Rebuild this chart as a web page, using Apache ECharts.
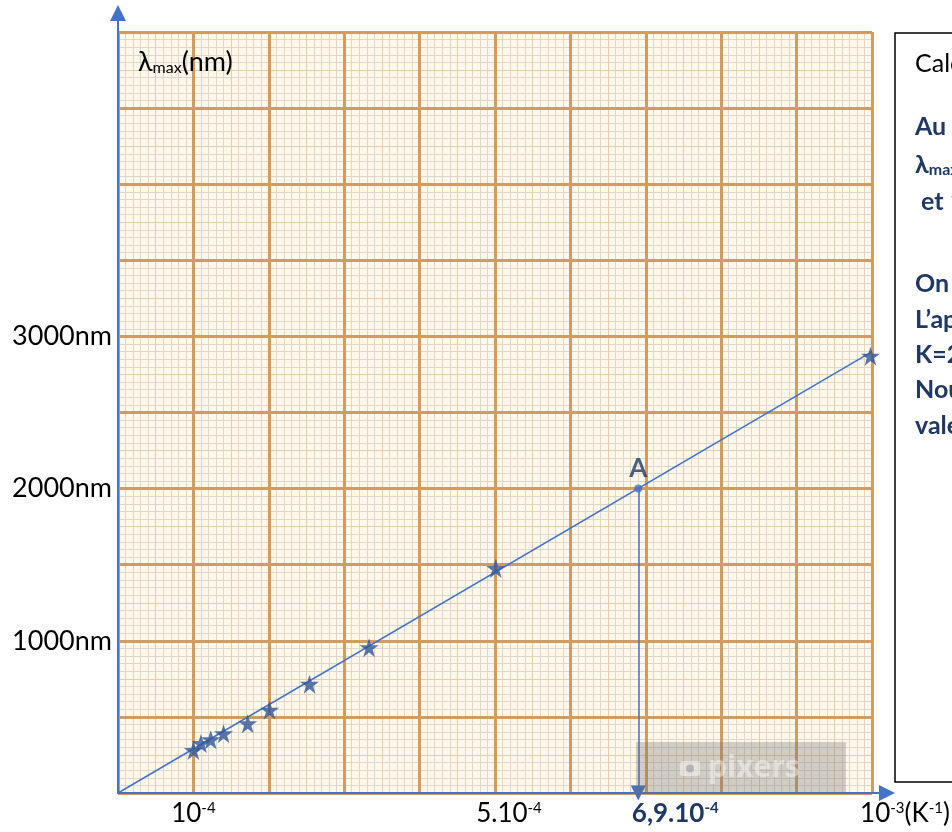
<!DOCTYPE html>
<html><head><meta charset="utf-8">
<script src="https://cdn.jsdelivr.net/npm/echarts@6/dist/echarts.min.js"></script>
<style>html,body{margin:0;padding:0;background:#fff}#c{width:952px;height:832px}</style>
</head><body><div id="c"></div>
<script>
// ---- data ----
const starX = [1.00e-4, 1.10e-4, 1.23e-4, 1.40e-4, 1.72e-4, 2.01e-4, 2.54e-4, 3.33e-4, 5.01e-4, 9.98e-4];
const starY = [280, 325, 350, 390, 455, 545, 715, 955, 1475, 2870];
const fitX = [0, 1.0e-3];
const fitY = [0, 2900];
const pointAX = 6.9e-4;
const pointAY = 2000;
const pointALabel = 'A';
const xTickValues = [1e-4, 5e-4, 6.9e-4, 1e-3];
const xTickLabels = ['10{sup|-4}', '5.10{sup|-4}', '{b|6,9.10}{bsup|-4}', '10{sup|-3}(K{sup|-1})'];
const yTickValues = [1000, 2000, 3000];
const yTickLabels = ['1000nm', '2000nm', '3000nm'];
const yAxisName = '{l|λ}{s|max}{l|(nm)}';
const xMin = 0, xMax = 1e-3, yMin = 0, yMax = 5000;
const boxLines = [
  {t: 'Calcul de la constante de Wien', bold: false},
  {t: 'Au point A :', bold: true},
  {t: '{bl|λ}{bs|max}{b| = 2000 nm = 2.10}{bsup|-6}{b| m}', bold: true, rich: true},
  {t: ' et 1/T = 6,9.10-4 K-1', bold: true},
  {t: 'On a : λmax = K × 1/T', bold: true},
  {t: 'L’application numérique donne', bold: true},
  {t: 'K=2,9.10-3 m.K', bold: true},
  {t: 'Nous retrouvons bien la', bold: true},
  {t: 'valeur de la constante de Wien', bold: true}
];
const boxLineY = [64, 127, 165, 202, 284, 320, 355, 390, 426];

// ---- styles ----
const FONT = 'Lato';
const NAVY = '#1F3864';
const BLUE = '#4472C4';
const STARC = '#2F5597';
const xShift = [0, 28, 74, 66];

const chart = echarts.init(document.getElementById('c'));

function paperX(interval, color, width, z) {
  return {gridIndex: 0, type: 'value', position: 'bottom', min: xMin, max: xMax, interval: interval, z: z,
    axisLine: {show: false}, axisTick: {show: false}, axisLabel: {show: false},
    splitLine: {show: true, lineStyle: {color: color, width: width}}};
}
function paperY(interval, color, width, z) {
  return {gridIndex: 0, type: 'value', position: 'left', min: yMin, max: yMax, interval: interval, z: z,
    axisLine: {show: false}, axisTick: {show: false}, axisLabel: {show: false},
    splitLine: {show: true, lineStyle: {color: color, width: width}}};
}
function findIdx(arr, v) {
  let best = 0;
  for (let i = 0; i < arr.length; i++) if (Math.abs(arr[i] - v) < Math.abs(arr[best] - v)) best = i;
  return best;
}
const star = 'path://M12,0 L14.8,8.5 L24,8.5 L16.6,13.9 L19.4,22.8 L12,17.3 L4.6,22.8 L7.4,13.9 L0,8.5 L9.2,8.5 Z';

const graphics = [
  {type: 'rect', shape: {x: 895, y: 33, width: 120, height: 749}, style: {fill: '#fff', stroke: '#000', lineWidth: 1.5}, z: 10},
  // watermark
  {type: 'rect', shape: {x: 636, y: 742, width: 210, height: 51}, style: {fill: 'rgba(110,110,110,0.30)'}, z: 20},
  {type: 'rect', shape: {x: 680, y: 761, width: 20, height: 15, r: 3}, style: {fill: 'rgba(255,255,255,0.45)'}, z: 21},
  {type: 'circle', shape: {cx: 690, cy: 768.5, r: 4}, style: {fill: 'rgba(150,150,150,0.6)'}, z: 22},
  {type: 'text', x: 708, y: 768, style: {text: 'pixers', font: 'bold 30px "Open Sans"', fill: 'rgba(255,255,255,0.42)', verticalAlign: 'middle'}, z: 21}
];
boxLines.forEach((l, i) => {
  const richStyles = {
    b: {fontFamily: FONT, fontSize: 25, fontWeight: 'bold', fill: NAVY},
    bl: {fontFamily: FONT, fontSize: 25, fontWeight: 'bold', fill: NAVY},
    bs: {fontFamily: FONT, fontSize: 16, fontWeight: 'bold', fill: NAVY, verticalAlign: 'bottom'},
    bsup: {fontFamily: FONT, fontSize: 16, fontWeight: 'bold', fill: NAVY, verticalAlign: 'top'}
  };
  graphics.push({type: 'text', x: 915, y: boxLineY[i], z: 11,
    style: {text: l.t, rich: l.rich ? richStyles : undefined,
      font: (l.bold ? 'bold ' : '') + '25px ' + FONT, fill: l.bold ? NAVY : '#000', verticalAlign: 'middle'}});
});

const option = {
  animation: false,
  backgroundColor: '#fff',
  grid: [
    {left: 118, top: 32, width: 754, height: 761, show: true, backgroundColor: '#fef7ea', borderWidth: 0, outerBoundsMode: 'none', containLabel: false},
    {left: 118, top: 13, width: 769, height: 780, show: false, outerBoundsMode: 'none', containLabel: false}
  ],
  xAxis: [
    paperX(1e-5, '#dfd7cc', 1, 0),
    paperX(5e-5, '#e9cda8', 1, 1),
    paperX(1e-4, '#d29b60', 3, 2),
    {gridIndex: 0, type: 'value', position: 'bottom', min: xMin, max: xMax, z: 5,
      axisLine: {show: false}, axisTick: {show: false}, splitLine: {show: false},
      axisLabel: {show: true, customValues: xTickValues, margin: 8, showMinLabel: true, showMaxLabel: true,
        fontFamily: FONT, fontSize: 26, color: '#000',
        formatter: function (v) { const i = findIdx(xTickValues, v); return (xShift[i] ? '{sp' + i + '| }' : '') + xTickLabels[i]; },
        rich: {
          sup: {fontFamily: FONT, fontSize: 15, color: '#000', verticalAlign: 'top'},
          b: {fontFamily: FONT, fontSize: 26, fontWeight: 'bold', color: NAVY},
          bsup: {fontFamily: FONT, fontSize: 15, fontWeight: 'bold', color: NAVY, verticalAlign: 'top'},
          sp1: {width: xShift[1]}, sp2: {width: xShift[2]}, sp3: {width: xShift[3]}
        }}},
    {gridIndex: 1, type: 'value', position: 'bottom', min: 0, max: 1, z: 8,
      axisLine: {show: true, symbol: ['none', 'triangle'], symbolSize: [16, 16], lineStyle: {color: BLUE, width: 2}},
      axisTick: {show: false}, axisLabel: {show: false}, splitLine: {show: false}}
  ],
  yAxis: [
    paperY(50, '#dfd7cc', 1, 0),
    paperY(250, '#e9cda8', 1, 1),
    paperY(500, '#d29b60', 3, 2),
    {gridIndex: 0, type: 'value', position: 'left', min: yMin, max: yMax, z: 5,
      axisLine: {show: false}, axisTick: {show: false}, splitLine: {show: false},
      name: yAxisName, nameLocation: 'end', nameGap: -30,
      nameTextStyle: {align: 'left', verticalAlign: 'middle', padding: [0, 0, 0, 20],
        rich: {l: {fontFamily: FONT, fontSize: 27, color: '#000'}, s: {fontFamily: FONT, fontSize: 16, color: '#000', verticalAlign: 'bottom'}}},
      axisLabel: {show: true, customValues: yTickValues, margin: 6, fontFamily: FONT, fontSize: 27, color: '#000',
        formatter: function (v) { return yTickLabels[findIdx(yTickValues, v)]; }}},
    {gridIndex: 1, type: 'value', position: 'left', min: 0, max: 1, z: 8,
      axisLine: {show: true, symbol: ['none', 'triangle'], symbolSize: [16, 16], lineStyle: {color: BLUE, width: 2}},
      axisTick: {show: false}, axisLabel: {show: false}, splitLine: {show: false}}
  ],
  graphic: graphics,
  series: [
    {type: 'line', xAxisIndex: 2, yAxisIndex: 2, z: 6, symbol: 'none',
      lineStyle: {color: BLUE, width: 1.5},
      data: fitX.map((x, i) => [x, fitY[i]])},
    {type: 'scatter', xAxisIndex: 2, yAxisIndex: 2, z: 7, symbol: 'circle', symbolSize: 8,
      itemStyle: {color: BLUE},
      label: {show: true, position: 'top', distance: 3, formatter: pointALabel, fontFamily: FONT, fontSize: 26, fontWeight: 'bold', color: NAVY},
      markLine: {silent: true, symbol: ['none', 'triangle'], symbolSize: 15,
        lineStyle: {color: BLUE, width: 1.5, type: 'solid'}, label: {show: false},
        data: [[{coord: [pointAX, pointAY]}, {coord: [pointAX, yMin]}]]},
      data: [[pointAX, pointAY]]},
    {type: 'scatter', xAxisIndex: 2, yAxisIndex: 2, z: 8, symbol: star, symbolSize: 19,
      itemStyle: {color: STARC},
      data: starX.map((x, i) => [x, starY[i]])}
  ]
};
chart.setOption(option);
</script></body></html>
